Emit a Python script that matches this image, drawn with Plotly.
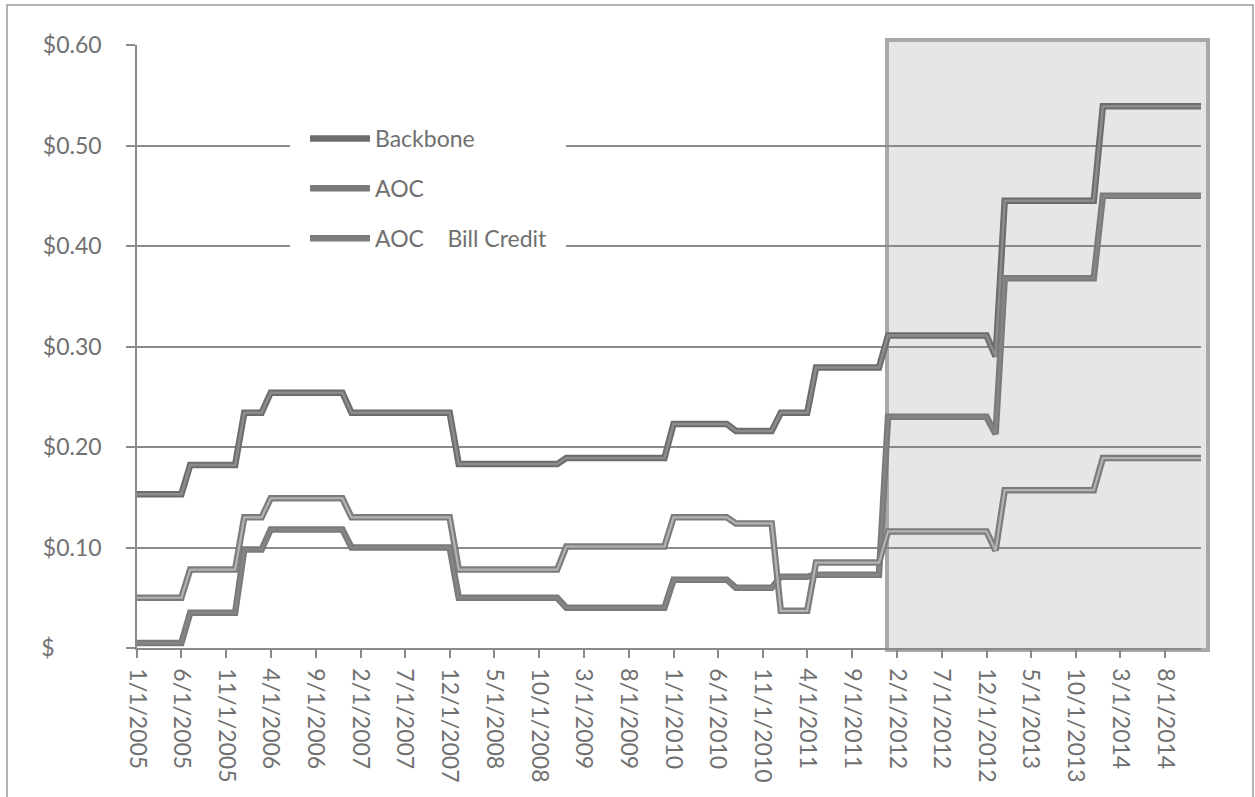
import pandas as pd
import plotly.graph_objects as go

# Monthly rates, Jan 2005 - Dec 2014 (one row per year)
months = pd.date_range("2005-01-01", periods=120, freq="MS")

backbone = [
    0.153, 0.153, 0.153, 0.153, 0.153, 0.153, 0.182, 0.182, 0.182, 0.182, 0.182, 0.182,
    0.234, 0.234, 0.234, 0.254, 0.254, 0.254, 0.254, 0.254, 0.254, 0.254, 0.254, 0.254,
    0.234, 0.234, 0.234, 0.234, 0.234, 0.234, 0.234, 0.234, 0.234, 0.234, 0.234, 0.234,
    0.183, 0.183, 0.183, 0.183, 0.183, 0.183, 0.183, 0.183, 0.183, 0.183, 0.183, 0.183,
    0.189, 0.189, 0.189, 0.189, 0.189, 0.189, 0.189, 0.189, 0.189, 0.189, 0.189, 0.189,
    0.223, 0.223, 0.223, 0.223, 0.223, 0.223, 0.223, 0.216, 0.216, 0.216, 0.216, 0.216,
    0.234, 0.234, 0.234, 0.234, 0.279, 0.279, 0.279, 0.279, 0.279, 0.279, 0.279, 0.279,
    0.311, 0.311, 0.311, 0.311, 0.311, 0.311, 0.311, 0.311, 0.311, 0.311, 0.311, 0.311,
    0.290, 0.445, 0.445, 0.445, 0.445, 0.445, 0.445, 0.445, 0.445, 0.445, 0.445, 0.445,
    0.539, 0.539, 0.539, 0.539, 0.539, 0.539, 0.539, 0.539, 0.539, 0.539, 0.539, 0.539,
]

aoc = [
    0.005, 0.005, 0.005, 0.005, 0.005, 0.005, 0.035, 0.035, 0.035, 0.035, 0.035, 0.035,
    0.098, 0.098, 0.098, 0.118, 0.118, 0.118, 0.118, 0.118, 0.118, 0.118, 0.118, 0.118,
    0.100, 0.100, 0.100, 0.100, 0.100, 0.100, 0.100, 0.100, 0.100, 0.100, 0.100, 0.100,
    0.050, 0.050, 0.050, 0.050, 0.050, 0.050, 0.050, 0.050, 0.050, 0.050, 0.050, 0.050,
    0.040, 0.040, 0.040, 0.040, 0.040, 0.040, 0.040, 0.040, 0.040, 0.040, 0.040, 0.040,
    0.068, 0.068, 0.068, 0.068, 0.068, 0.068, 0.068, 0.060, 0.060, 0.060, 0.060, 0.060,
    0.071, 0.071, 0.071, 0.071, 0.073, 0.073, 0.073, 0.073, 0.073, 0.073, 0.073, 0.073,
    0.230, 0.230, 0.230, 0.230, 0.230, 0.230, 0.230, 0.230, 0.230, 0.230, 0.230, 0.230,
    0.213, 0.368, 0.368, 0.368, 0.368, 0.368, 0.368, 0.368, 0.368, 0.368, 0.368, 0.368,
    0.450, 0.450, 0.450, 0.450, 0.450, 0.450, 0.450, 0.450, 0.450, 0.450, 0.450, 0.450,
]

aoc_bill_credit = [
    0.050, 0.050, 0.050, 0.050, 0.050, 0.050, 0.078, 0.078, 0.078, 0.078, 0.078, 0.078,
    0.130, 0.130, 0.130, 0.149, 0.149, 0.149, 0.149, 0.149, 0.149, 0.149, 0.149, 0.149,
    0.130, 0.130, 0.130, 0.130, 0.130, 0.130, 0.130, 0.130, 0.130, 0.130, 0.130, 0.130,
    0.078, 0.078, 0.078, 0.078, 0.078, 0.078, 0.078, 0.078, 0.078, 0.078, 0.078, 0.078,
    0.101, 0.101, 0.101, 0.101, 0.101, 0.101, 0.101, 0.101, 0.101, 0.101, 0.101, 0.101,
    0.130, 0.130, 0.130, 0.130, 0.130, 0.130, 0.130, 0.124, 0.124, 0.124, 0.124, 0.124,
    0.037, 0.037, 0.037, 0.037, 0.085, 0.085, 0.085, 0.085, 0.085, 0.085, 0.085, 0.085,
    0.116, 0.116, 0.116, 0.116, 0.116, 0.116, 0.116, 0.116, 0.116, 0.116, 0.116, 0.116,
    0.097, 0.157, 0.157, 0.157, 0.157, 0.157, 0.157, 0.157, 0.157, 0.157, 0.157, 0.157,
    0.189, 0.189, 0.189, 0.189, 0.189, 0.189, 0.189, 0.189, 0.189, 0.189, 0.189, 0.189,
]

# Axis ticks: every fifth month on the x axis, dollar steps on the y axis
x_tick_dates = months[::5]
x_tick_labels = [f"{d.month}/1/{d.year}" for d in x_tick_dates]
y_tick_values = [0.0, 0.1, 0.2, 0.3, 0.4, 0.5, 0.6]
# accounting-style labels: the zero row keeps only the currency sign, left-aligned
y_tick_labels = ["$" + "\u00a0" * 8, "$0.10", "$0.20", "$0.30", "$0.40", "$0.50", "$0.60"]

FONT = "Lato, 'Open Sans', sans-serif"
TEXT = "#707070"
GRID = "#8a8a8a"
FS = 23

W, H = 1255, 797
L, R, T, B = 137, 54, 45, 149
pw, ph = W - L - R, H - T - B


def px_x(p):
    return (p - L) / pw


def px_y(p):
    return (H - B - p) / ph


fig = go.Figure()

series = [
    ("Backbone", backbone, "#6c6c6c", "#8c8c8c", 2.5),
    ("AOC", aoc, "#7a7a7a", "#858585", 2.5),
    ("AOC\u00a0\u00a0\u00a0 Bill Credit", aoc_bill_credit, "#7c7c7c", "#b4b4b4", 2.2),
]

for name, vals, edge, core, core_w in series:
    fig.add_trace(go.Scatter(
        x=months, y=vals, mode="lines", name=name, legendgroup=name,
        line=dict(color=edge, width=6.5),
        hoverinfo="skip",
    ))
    fig.add_trace(go.Scatter(
        x=months, y=vals, mode="lines", name=name, legendgroup=name,
        showlegend=False,
        line=dict(color=core, width=core_w),
    ))

# Shaded window from early 2012 to the end of the series
fig.add_shape(
    type="rect", xref="paper", yref="paper",
    x0=px_x(887), x1=px_x(1208), y0=px_y(650), y1=px_y(40),
    fillcolor="#e6e6e6", line=dict(color="#a8a8a8", width=4),
    layer="below",
)

# White panel behind the legend, breaking the gridlines
fig.add_shape(
    type="rect", xref="paper", yref="paper",
    x0=px_x(290), x1=px_x(566), y0=px_y(262), y1=px_y(117),
    fillcolor="white", line=dict(width=0),
    layer="above",
)

# Outer frame
fig.add_shape(
    type="rect", xref="paper", yref="paper",
    x0=px_x(7), x1=px_x(1253), y0=px_y(805), y1=px_y(5),
    fillcolor="rgba(0,0,0,0)", line=dict(color="#9a9a9a", width=1.5),
    layer="above",
)

fig.update_layout(
    width=W, height=H,
    margin=dict(l=L, r=R, t=T, b=B, pad=0),
    paper_bgcolor="white", plot_bgcolor="rgba(0,0,0,0)",
    font=dict(family=FONT, size=FS, color=TEXT),
    showlegend=True,
    legend=dict(
        x=px_x(305), y=px_y(117), xanchor="left", yanchor="top",
        bgcolor="white", borderwidth=0,
        traceorder="grouped", tracegroupgap=17,
        font=dict(family=FONT, size=FS, color=TEXT),
        entrywidth=255, entrywidthmode="pixels",
        itemwidth=60,
    ),
)

fig.update_xaxes(
    type="date",
    range=[months[0], months[-1]],
    tickvals=list(x_tick_dates), ticktext=x_tick_labels,
    tickangle=90, ticks="outside", ticklen=8, tickwidth=1.5, tickcolor=GRID,
    showline=True, linecolor=GRID, linewidth=1.5,
    showgrid=False, zeroline=False,
    tickfont=dict(family=FONT, size=FS, color=TEXT),
    ticklabelstandoff=6,
)

fig.update_yaxes(
    range=[0, 0.6],
    tickvals=y_tick_values, ticktext=y_tick_labels,
    ticks="outside", ticklen=9, tickwidth=1.5, tickcolor=GRID,
    showline=True, linecolor=GRID, linewidth=1.5,
    showgrid=True, gridcolor=GRID, gridwidth=1.5,
    zeroline=False,
    tickfont=dict(family=FONT, size=FS, color=TEXT),
    ticklabelstandoff=20,
)

fig.write_html("out.html")
